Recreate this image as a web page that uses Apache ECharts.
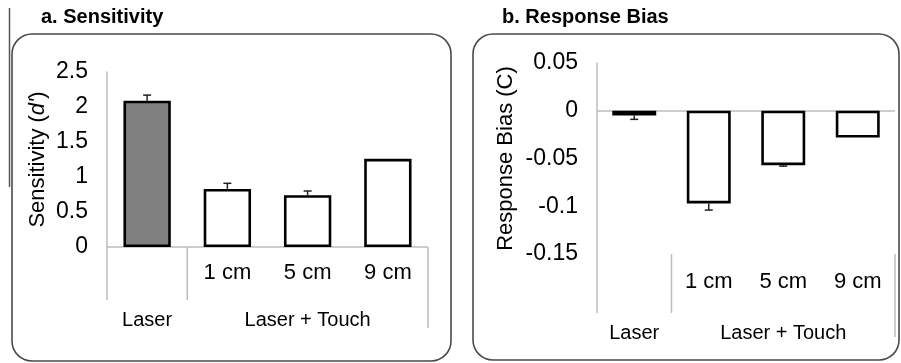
<!DOCTYPE html>
<html>
<head>
<meta charset="utf-8">
<script src="https://cdn.jsdelivr.net/npm/echarts@6/dist/echarts.min.js"></script>
<style>
  html, body { margin: 0; padding: 0; background: #fff; }
  #chart { width: 901px; height: 363px; }
</style>
</head>
<body>
<div id="chart"></div>
<script>
// ---- data ----
const categories = ['Laser', '1 cm', '5 cm', '9 cm'];
const subLabels = ['', '1 cm', '5 cm', '9 cm'];
const groupNames = ['Laser', 'Laser + Touch'];
const groupOfCategory = [0, 1, 1, 1];
const sensitivity = [2.09, 0.83, 0.74, 1.26];
const sensitivityErr = [0.08, 0.08, 0.06, 0];
const responseBias = [-0.005, -0.097, -0.057, -0.028];
const responseBiasErr = [0.004, 0.007, 0.001, 0];
const sensitivityTicks = [0, 0.5, 1, 1.5, 2, 2.5];
const responseBiasTicks = [-0.15, -0.1, -0.05, 0, 0.05];
const panelTitles = ['a. Sensitivity', 'b. Response Bias'];

// ---- helpers ----
const FONT = '"Liberation Sans", Arial, Helvetica, sans-serif';
const AXIS_GRAY = '#bdbdbd';

const groupLabelAt = categories.map(function (c, i) {
  const g = groupOfCategory[i];
  const idx = [];
  groupOfCategory.forEach(function (gg, j) { if (gg === g) idx.push(j); });
  const mid = idx[Math.floor((idx.length - 1) / 2)];
  return mid === i ? groupNames[g] : '';
});

function tickRange(t) {
  return { min: t[0], max: t[t.length - 1], interval: +(t[1] - t[0]).toFixed(6) };
}

function errRender(params, api) {
  const x = api.value(0), v = api.value(1), e = api.value(2);
  if (!e) return null;
  const end = v >= 0 ? v + e : v - e;
  const p0 = api.coord([x, v]);
  const p1 = api.coord([x, end]);
  const w = 8;
  const st = { stroke: '#222', lineWidth: 1.5 };
  return {
    type: 'group',
    children: [
      { type: 'line', shape: { x1: p0[0], y1: p0[1], x2: p1[0], y2: p1[1] }, style: st },
      { type: 'line', shape: { x1: p1[0] - w / 2, y1: p1[1], x2: p1[0] + w / 2, y2: p1[1] }, style: st }
    ]
  };
}

function xAxesFor(gridIndex, subMargin, groupMargin) {
  return [
    {
      gridIndex: gridIndex, type: 'category', data: categories, position: 'bottom',
      axisLine: { show: false, onZero: false }, axisTick: { show: false },
      axisLabel: { margin: subMargin, fontSize: 22, color: '#000', fontFamily: FONT,
        interval: 0, formatter: function (v, i) { return subLabels[i]; } }
    },
    {
      gridIndex: gridIndex, type: 'category', data: categories, position: 'bottom',
      axisLine: { show: false, onZero: false }, axisTick: { show: false },
      axisLabel: { margin: groupMargin, fontSize: 20, color: '#000', fontFamily: FONT,
        interval: 0, formatter: function (v, i) { return groupLabelAt[i]; } }
    }
  ];
}

function yAxisFor(gridIndex, ticks, name, nameGap) {
  const r = tickRange(ticks);
  return {
    gridIndex: gridIndex, type: 'value', min: r.min, max: r.max, interval: r.interval,
    splitLine: { show: false },
    axisLine: { show: true, lineStyle: { color: AXIS_GRAY, width: 1.5 } },
    axisTick: { show: false },
    axisLabel: { fontSize: 23, color: '#000', fontFamily: FONT, margin: 19,
      formatter: function (v) { return String(+v.toFixed(3)); } },
    name: name, nameLocation: 'middle', nameRotate: 90, nameGap: nameGap,
    nameTextStyle: { fontSize: 22, color: '#000', fontFamily: FONT,
      rich: { i: { fontSize: 22, fontStyle: 'italic', color: '#000', fontFamily: FONT } } }
  };
}

function barSeries(xi, yi, values) {
  return {
    type: 'bar', xAxisIndex: xi, yAxisIndex: yi, data: values, barWidth: '59%',
    itemStyle: {
      color: function (p) { return p.dataIndex === 0 ? '#808080' : '#ffffff'; },
      borderColor: '#000', borderWidth: 2.6
    },
    markLine: {
      silent: true, symbol: 'none', label: { show: false },
      lineStyle: { color: AXIS_GRAY, width: 1.5, type: 'solid' },
      data: [{ yAxis: 0 }], z: 1
    },
    z: 2
  };
}

function errSeries(xi, yi, values, errs) {
  return {
    type: 'custom', xAxisIndex: xi, yAxisIndex: yi,
    data: values.map(function (v, i) { return [i, v, errs[i]]; }),
    encode: { x: 0, y: 1 }, renderItem: errRender, z: 5
  };
}

const chart = echarts.init(document.getElementById('chart'), null, { renderer: 'canvas' });

const option = {
  animation: false,
  backgroundColor: '#fff',
  title: [
    { text: panelTitles[0], left: 41, top: 7, padding: 0, textStyle: { fontSize: 20, fontWeight: 'bold', color: '#000', fontFamily: FONT } },
    { text: panelTitles[1], left: 502, top: 7, padding: 0, textStyle: { fontSize: 20, fontWeight: 'bold', color: '#000', fontFamily: FONT } }
  ],
  grid: [
    { left: 107, right: 473, top: 72, bottom: 116, outerBoundsMode: 'none', containLabel: false },
    { left: 597, right: 6, top: 63, bottom: 109, outerBoundsMode: 'none', containLabel: false }
  ],
  xAxis: xAxesFor(0, 15, 63).concat(xAxesFor(1, 17, 69)),
  yAxis: [
    yAxisFor(0, sensitivityTicks, "Sensitivity ({i|d'})", 58),
    yAxisFor(1, responseBiasTicks, 'Response Bias (C)', 80)
  ],
  series: [
    barSeries(0, 0, sensitivity),
    errSeries(0, 0, sensitivity, sensitivityErr),
    barSeries(2, 1, responseBias),
    errSeries(2, 1, responseBias, responseBiasErr)
  ]
};
chart.setOption(option);

// ---- decorations: rounded panels, category separators ----
function separators(xAxisIndex, yAxisIndex, yMin, shortLen, longLen) {
  const cs = categories.map(function (c, i) { return chart.convertToPixel({ xAxisIndex: xAxisIndex }, i); });
  const step = cs[1] - cs[0];
  const yb = chart.convertToPixel({ yAxisIndex: yAxisIndex }, yMin);
  const lines = [];
  const xs = [cs[0] - step / 2];
  for (let i = 1; i < cs.length; i++) {
    if (groupOfCategory[i] !== groupOfCategory[i - 1]) xs.push((cs[i] + cs[i - 1]) / 2);
  }
  xs.forEach(function (x) {
    lines.push({ type: 'line', shape: { x1: x, y1: yb, x2: x, y2: yb + shortLen },
      style: { stroke: AXIS_GRAY, lineWidth: 1.5 }, z: 10 });
  });
  const xr = cs[cs.length - 1] + step / 2;
  lines.push({ type: 'line', shape: { x1: xr, y1: yb, x2: xr, y2: yb + longLen },
    style: { stroke: AXIS_GRAY, lineWidth: 1.5 }, z: 10 });
  return lines;
}

const boxStyle = { fill: 'none', stroke: '#4a4a4a', lineWidth: 1.6 };
const graphics = [
  { type: 'line', shape: { x1: 9.5, y1: 8, x2: 9.5, y2: 187 }, style: { stroke: '#555', lineWidth: 1.5 } },
  { type: 'rect', shape: { x: 12, y: 34, width: 439, height: 327, r: 20 }, style: boxStyle },
  { type: 'rect', shape: { x: 473, y: 34, width: 426, height: 326, r: 20 }, style: boxStyle }
].concat(separators(0, 0, sensitivityTicks[0], 53, 81))
 .concat(separators(2, 1, responseBiasTicks[0], 59, 83));

chart.setOption({ graphic: graphics });
</script>
</body>
</html>
